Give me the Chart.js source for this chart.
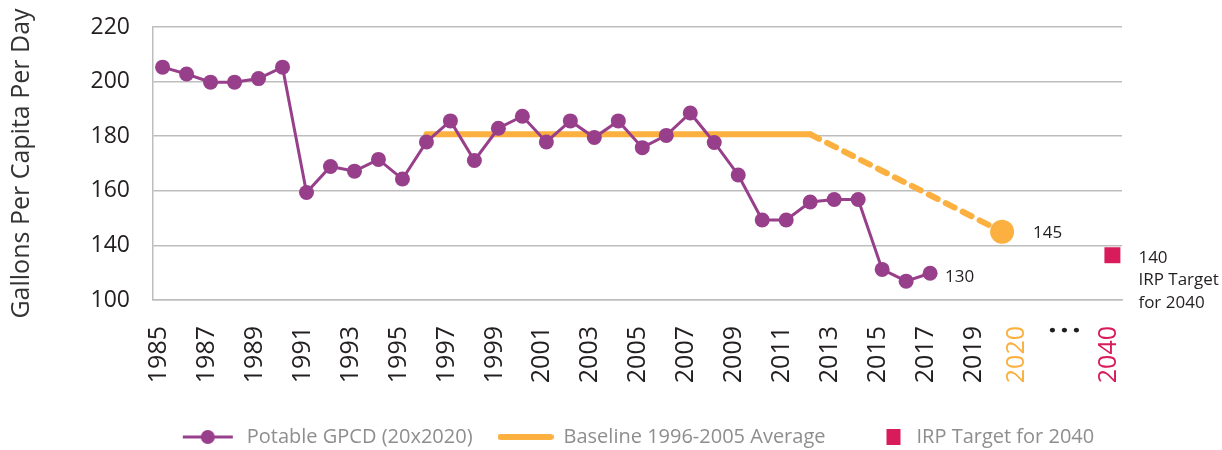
<!DOCTYPE html>
<html>
<head>
<meta charset="utf-8">
<script src="https://cdn.jsdelivr.net/npm/chart.js@4"></script>
<style>
	body { margin: 0; background: #fff; }
	#wrap { width: 1222px; height: 450px; }
</style>
</head>
<body>
<div id="wrap"><canvas id="myChart"></canvas></div>
<script>
const ctx = document.getElementById('myChart');

// potable GPCD, 1985-2017
const years = [1985, 1986, 1987, 1988, 1989, 1990, 1991, 1992, 1993, 1994, 1995, 1996, 1997, 1998, 1999, 2000, 2001,
	2002, 2003, 2004, 2005, 2006, 2007, 2008, 2009, 2010, 2011, 2012, 2013, 2014, 2015, 2016, 2017];
const gpcd = [205.3, 202.8, 199.8, 199.8, 201.1, 205.3, 159.4, 168.9, 167.2, 171.5, 164.3, 177.9, 185.6, 171.1, 182.9, 187.3, 177.9,
	185.6, 179.5, 185.6, 175.8, 180.3, 188.5, 177.7, 165.8, 149.3, 149.3, 155.9, 156.8, 156.8, 131.2, 126.9, 129.8];

// baseline average, then the 20x2020 target
const baselineYears = [1996, 2012, 2020];
const baselineGpcd = [180.7, 180.7, 145];

const targetYear = 2040;
const targetGpcd = 136.4;

const yTicks = [120, 140, 160, 180, 200, 220];
const yTickLabels = ['100', '140', '160', '180', '200', '220']; // broken axis at the bottom
const xTickLabels = ['1985', '1987', '1989', '1991', '1993', '1995', '1997', '1999', '2001', '2003', '2005', '2007',
	'2009', '2011', '2013', '2015', '2017', '2019', '2020', '•••', '2040'];
const noteLabels = ['130', '145', ['140', 'IRP Target', 'for 2040']];

let purple = '#983f8c';
let orange = '#fbb040';
let crimson = '#d81b5b';
let ink = '#231f20';
let gridColor = '#bdbdbd';

// the axis is squeezed after 2020
const squeezed = { '2020': 2020.8, '•••': 2022.3, '2040': 2024.6 };
const xOf = (year) => (year === targetYear ? squeezed['2040'] : year);
const xTickPos = xTickLabels.map((l) => squeezed[l] ?? Number(l));

function icon(draw) {
	const c = document.createElement('canvas');
	c.width = 56;
	c.height = 18;
	draw(c.getContext('2d'));
	return c;
}

const legendIcons = [
	icon((g) => {
		g.strokeStyle = purple;
		g.lineWidth = 3;
		g.beginPath();
		g.moveTo(2, 9);
		g.lineTo(52, 9);
		g.stroke();
		g.fillStyle = purple;
		g.beginPath();
		g.arc(27, 9, 7, 0, Math.PI * 2);
		g.fill();
	}),
	icon((g) => {
		g.strokeStyle = orange;
		g.lineWidth = 6;
		g.lineCap = 'round';
		g.beginPath();
		g.moveTo(3, 9);
		g.lineTo(53, 9);
		g.stroke();
	}),
	icon((g) => {
		g.fillStyle = crimson;
		g.fillRect(36, 1, 14, 16);
	}),
];

const notes = {
	id: 'notes',
	afterDatasetsDraw(chart) {
		const { ctx: g, scales } = chart;
		const x = scales.x;
		const y = scales.y;
		g.save();
		g.font = '17px "Open Sans"';
		g.fillStyle = ink;
		g.textBaseline = 'middle';
		const last = years.length - 1;
		g.fillText(noteLabels[0], x.getPixelForValue(years[last]) + 15, y.getPixelForValue(gpcd[last]) + 4);
		g.fillText(noteLabels[1], x.getPixelForValue(baselineYears[2]) + 31, y.getPixelForValue(baselineGpcd[2]) + 1);
		noteLabels[2].forEach((line, i) => {
			g.fillText(line, x.getPixelForValue(xOf(targetYear)) + 26, y.getPixelForValue(targetGpcd) + 3 + i * 22.3);
		});
		g.restore();
	},
};

new Chart(ctx, {
	type: 'line',
	data: {
		datasets: [
			{
				label: 'Potable GPCD (20x2020)',
				data: years.map((yr, i) => ({ x: yr, y: gpcd[i] })),
				borderColor: purple,
				backgroundColor: purple,
				borderWidth: 3,
				pointRadius: 7.5,
				pointBorderWidth: 0,
				order: 1,
			},
			{
				label: 'Baseline 1996-2005 Average',
				data: baselineYears.map((yr, i) => ({ x: yr, y: baselineGpcd[i] })),
				borderColor: orange,
				backgroundColor: orange,
				borderWidth: 6,
				borderCapStyle: 'round',
				pointRadius: [0, 0, 12],
				pointBorderWidth: 0,
				segment: {
					borderDash: (c) => (c.p0DataIndex === 1 ? [10, 9] : undefined),
				},
				order: 2,
			},
			{
				label: 'IRP Target for 2040',
				data: [{ x: xOf(targetYear), y: targetGpcd }],
				showLine: false,
				pointStyle: 'rect',
				pointRadius: 11.3,
				pointBorderWidth: 0,
				borderColor: crimson,
				backgroundColor: crimson,
				order: 0,
			},
		],
	},
	options: {
		responsive: true,
		maintainAspectRatio: false,
		animation: false,
		layout: {
			padding: { top: 27, right: 100, bottom: -7, left: 0 },
		},
		scales: {
			x: {
				type: 'linear',
				min: 1984.6,
				max: 2025,
				afterBuildTicks: (axis) => {
					axis.ticks = xTickPos.map((v) => ({ value: v }));
				},
				afterFit: (axis) => {
					axis.height = 102;
				},
				grid: { display: false, drawTicks: false },
				border: { display: true, color: gridColor, width: 1.5 },
				ticks: {
					autoSkip: false,
					minRotation: 90,
					maxRotation: 90,
					padding: 26,
					labelOffset: -4,
					callback: (v, i) => {
						const l = xTickLabels[i];
						return l === '•••' ? ['•', '•', '•'] : l;
					},
					color: (c) => {
						const l = xTickLabels[c.index];
						return l === '2020' ? orange : l === '2040' ? crimson : ink;
					},
					font: (c) => xTickLabels[c.index] === '•••'
						? { family: 'Open Sans', size: 22, lineHeight: 0.55 }
						: { family: 'Open Sans', size: 25 },
				},
			},
			y: {
				min: 120,
				max: 220,
				afterBuildTicks: (axis) => {
					axis.ticks = yTicks.map((v) => ({ value: v }));
				},
				afterFit: (axis) => {
					axis.width = 153;
					axis.paddingTop = 0;
					axis.paddingBottom = 0;
				},
				grid: { color: gridColor, lineWidth: 1.5, drawTicks: false },
				border: { display: true, color: gridColor, width: 1.5 },
				ticks: {
					padding: 23,
					color: ink,
					font: { family: 'Open Sans', size: 23 },
					callback: (v, i) => yTickLabels[i],
				},
				title: {
					display: true,
					text: 'Gallons Per Capita Per Day',
					color: '#333',
					font: { family: 'Open Sans', size: 25 },
					padding: { top: 7, bottom: 10 },
				},
			},
		},
		plugins: {
			legend: {
				position: 'bottom',
				fullSize: false,
				labels: {
					usePointStyle: true,
					pointStyleWidth: 56,
					boxHeight: 18,
					padding: 25,
					color: '#8e8e8e',
					font: { family: 'Open Sans', size: 20 },
					generateLabels: (chart) => chart.data.datasets.map((ds, i) => ({
						text: ds.label,
						pointStyle: legendIcons[i],
						fillStyle: ds.backgroundColor,
						strokeStyle: ds.borderColor,
						lineWidth: 0,
						fontColor: '#8e8e8e',
						datasetIndex: i,
						hidden: false,
					})),
				},
			},
			tooltip: false,
		},
	},
	plugins: [notes],
});
</script>
</body>
</html>
